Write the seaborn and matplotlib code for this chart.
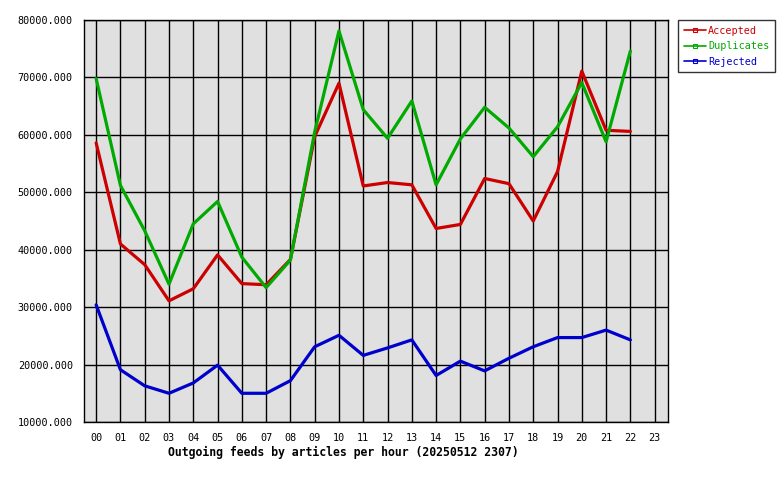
import matplotlib
matplotlib.use("Agg")
import matplotlib.pyplot as plt
from matplotlib.lines import Line2D
import seaborn as sns
import pandas as pd
import numpy as np

hours = ["00", "01", "02", "03", "04", "05", "06", "07", "08", "09", "10", "11",
         "12", "13", "14", "15", "16", "17", "18", "19", "20", "21", "22", "23"]
accepted = [58600, 41000, 37400, 31100, 33200, 39100, 34100, 33900, 38300, 59700,
            69000, 51100, 51700, 51300, 43700, 44400, 52400, 51500, 45000, 53600,
            71100, 60800, 60600]
duplicates = [69800, 51200, 43300, 34000, 44500, 48400, 38700, 33400, 38200, 60500,
              78100, 64400, 59400, 65900, 51300, 59300, 64800, 61200, 56200, 61400,
              69100, 58800, 74600]
rejected = [30400, 19100, 16300, 15000, 16800, 19900, 15000, 15000, 17200, 23100,
            25100, 21600, 22900, 24300, 18100, 20600, 18900, 21100, 23100, 24700,
            24700, 26000, 24300]
series_names = ["Accepted", "Duplicates", "Rejected"]
colors = ["#cc0000", "#00aa00", "#0000cc"]
yticks = [10000, 20000, 30000, 40000, 50000, 60000, 70000, 80000]

rows = []
for name, vals in zip(series_names, [accepted, duplicates, rejected]):
    for i, v in enumerate(vals):
        rows.append({"hour": i, "value": v, "series": name})
df = pd.DataFrame(rows)

sns.set_style("white")
plt.rcParams["font.family"] = ["DejaVu Sans Mono"]
plt.rcParams["text.color"] = "black"
plt.rcParams["xtick.color"] = "black"
plt.rcParams["ytick.color"] = "black"
plt.rcParams["axes.labelcolor"] = "black"

fig = plt.figure(figsize=(7.8, 4.8), dpi=100)
ax = fig.add_axes([84/780, 1-422/480, (668-84)/780, (422-20)/480])
ax.set_facecolor("#e0e0e0")

sns.lineplot(data=df, x="hour", y="value", hue="series", palette=colors,
             hue_order=series_names, linewidth=2.3, ax=ax, legend=False, zorder=3)

ax.set_xlim(-0.5, 23.55)
ax.set_ylim(10000, 80000)
ax.set_xticks(range(len(hours)))
ax.set_xticklabels(hours)
ax.set_yticks(yticks)
ax.set_yticklabels([f"{v:.3f}" for v in yticks])
ax.grid(True, color="black", linewidth=1.0, zorder=1)
ax.set_axisbelow(True)
for s in ax.spines.values():
    s.set_color("black")
    s.set_linewidth(1.0)
ax.tick_params(axis="both", direction="out", length=4, width=1, color="black",
               labelsize=7.3, pad=4)
ax.set_xlabel("Outgoing feeds by articles per hour (20250512 2307)",
              fontsize=8.3, fontweight="bold")
ax.xaxis.set_label_coords((343-84)/584, (422-452)/402)
ax.xaxis.label.set_verticalalignment("center")
ax.set_ylabel("")

handles = [Line2D([0], [0], color=c, linewidth=1.2, marker="s", markersize=3,
                  markerfacecolor="none", markeredgewidth=0.8) for c in colors]
leg = fig.legend(handles, series_names, loc="upper left",
                 bbox_to_anchor=(678/780, 1-20/480), frameon=True,
                 fontsize=7.3, handlelength=2.2, handletextpad=0.2,
                 borderpad=0.55, labelspacing=0.55, fancybox=False,
                 borderaxespad=0)
leg.get_frame().set_edgecolor("black")
leg.get_frame().set_linewidth(1.0)
for t, c in zip(leg.get_texts(), colors):
    t.set_color(c)

fig.savefig("out.png", dpi=100)
